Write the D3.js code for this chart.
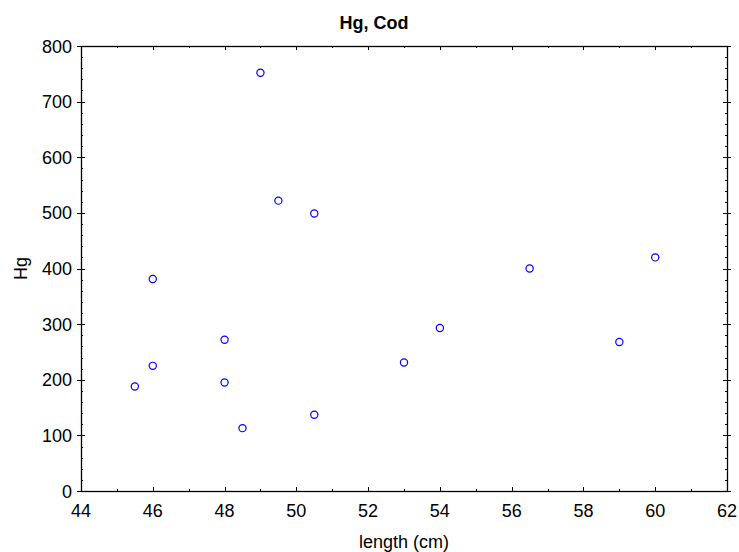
<!DOCTYPE html>
<html>
<head>
<meta charset="utf-8">
<script src="https://cdn.jsdelivr.net/npm/d3@7"></script>
<style>
  body { margin: 0; background: #fff; }
  text { font-family: "Liberation Sans", Arial, sans-serif; fill: #000; }
</style>
</head>
<body>
<div id="chart"></div>
<script>
'use strict';

// data
var lengthCm = [45.5, 46, 46, 48, 48, 48.5, 49, 49.5, 50.5, 50.5, 53, 54, 56.5, 59, 60];
var hgValues = [188, 225, 381, 272, 195, 113, 752, 522, 499, 137, 231, 293, 400, 268, 420];
var xTicks = [44, 46, 48, 50, 52, 54, 56, 58, 60, 62];
var yTicks = [0, 100, 200, 300, 400, 500, 600, 700, 800];

var width = 739, height = 552;
var margin = {left: 81, right: 12, top: 46, bottom: 61};

var svg = d3.select('#chart').append('svg')
  .attr('width', width)
  .attr('height', height);

var x = d3.scaleLinear().domain([44, 62]).range([margin.left, width - margin.right]);
var y = d3.scaleLinear().domain([0, 800]).range([height - margin.bottom, margin.top]);

var x0 = x.range()[0], x1 = x.range()[1], y0 = y.range()[0], y1 = y.range()[1];

// minor ticks
var xMinor = d3.range(44, 62.01, 1);
var yMinor = d3.range(0, 800.01, 20);

var ticks = svg.append('g').attr('stroke', '#000').attr('stroke-width', 1);

xMinor.forEach(function(v) {
  var px = Math.round(x(v)) + 0.5;
  var len = xTicks.indexOf(v) >= 0 ? 4 : 2;
  ticks.append('line').attr('x1', px).attr('x2', px).attr('y1', y0).attr('y2', y0 - len);
  ticks.append('line').attr('x1', px).attr('x2', px).attr('y1', y1).attr('y2', y1 + len);
});
yMinor.forEach(function(v) {
  var py = Math.round(y(v)) + 0.5;
  var major = yTicks.indexOf(v) >= 0;
  var len = major ? 4 : 2;
  ticks.append('line').attr('x1', x0 - (major ? 4 : 0)).attr('x2', x0 + len).attr('y1', py).attr('y2', py);
  ticks.append('line').attr('x1', x1 - len).attr('x2', x1 + (major ? 4 : 0)).attr('y1', py).attr('y2', py);
});

// frame
svg.append('rect')
  .attr('x', Math.round(x0) + 0.5)
  .attr('y', Math.round(y1) + 0.5)
  .attr('width', Math.round(x1 - x0))
  .attr('height', Math.round(y0 - y1))
  .attr('fill', 'none')
  .attr('stroke', '#000')
  .attr('stroke-width', 1.3);

// tick labels
svg.append('g').selectAll('text').data(xTicks)
  .enter().append('text')
    .attr('x', function(d) { return x(d); })
    .attr('y', y0 + 26)
    .attr('text-anchor', 'middle')
    .attr('font-size', 18)
    .text(function(d) { return d; });

svg.append('g').selectAll('text').data(yTicks)
  .enter().append('text')
    .attr('x', x0 - 9)
    .attr('y', function(d) { return y(d) + 6.5; })
    .attr('text-anchor', 'end')
    .attr('font-size', 18)
    .text(function(d) { return d; });

// titles
svg.append('text')
  .attr('x', 374)
  .attr('y', 29)
  .attr('text-anchor', 'middle')
  .attr('font-size', 18)
  .attr('font-weight', 'bold')
  .text('Hg, Cod');

svg.append('text')
  .attr('x', (x0 + x1) / 2)
  .attr('y', 548)
  .attr('text-anchor', 'middle')
  .attr('font-size', 18)
  .text('length (cm)');

svg.append('text')
  .attr('transform', 'translate(27,' + ((y0 + y1) / 2) + ') rotate(-90)')
  .attr('text-anchor', 'middle')
  .attr('font-size', 18)
  .text('Hg');

// points
svg.append('g').selectAll('circle').data(lengthCm)
  .enter().append('circle')
    .attr('cx', function(d) { return x(d); })
    .attr('cy', function(d, i) { return y(hgValues[i]); })
    .attr('r', 3.6)
    .attr('fill', 'none')
    .attr('stroke', '#0000ff')
    .attr('stroke-width', 1.2);
</script>
</body>
</html>
